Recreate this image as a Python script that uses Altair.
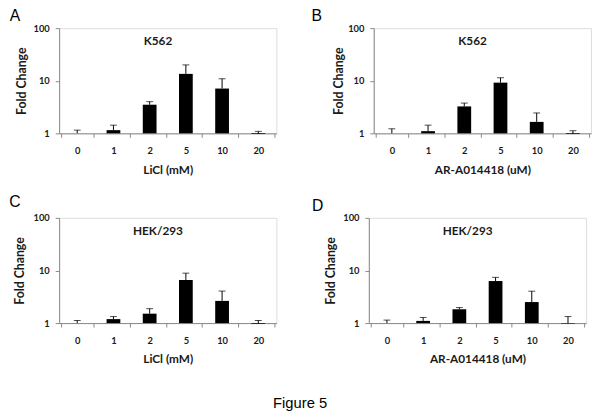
import altair as alt
import pandas as pd

doses = ["0", "1", "2", "5", "10", "20"]

# Panel A: K562, LiCl
a_vals = [1.0, 1.15, 3.5, 13.5, 7.1, 0.97]
a_errs = [1.15, 1.43, 4.0, 20.0, 10.9, 1.09]
# Panel B: K562, AR-A014418
b_vals = [1.0, 1.1, 3.25, 9.2, 1.65, 0.97]
b_errs = [1.22, 1.43, 3.76, 11.4, 2.44, 1.12]
# Panel C: HEK/293, LiCl
c_vals = [1.0, 1.19, 1.51, 6.6, 2.64, 0.97]
c_errs = [1.12, 1.33, 1.88, 8.9, 4.06, 1.12]
# Panel D: HEK/293, AR-A014418
d_vals = [1.0, 1.1, 1.83, 6.3, 2.51, 0.98]
d_errs = [1.14, 1.28, 1.97, 7.4, 4.04, 1.33]

panels = [
    ("A", "K562", "LiCl (mM)", a_vals, a_errs),
    ("B", "K562", "AR-A014418 (uM)", b_vals, b_errs),
    ("C", "HEK/293", "LiCl (mM)", c_vals, c_errs),
    ("D", "HEK/293", "AR-A014418 (uM)", d_vals, d_errs),
]

letter_pos = {"A": (-45, -12), "B": (-58, -12), "C": (-45, -16), "D": (-52, -12)}
title_pad = {"A": 5, "B": 2, "C": 7, "D": 5}

FONT = "Lato"
W, H = 221, 107


def make_panel(letter, cell, xtitle, vals, errs):
    df = pd.DataFrame({"dose": doses, "value": vals, "err": errs, "base": [1.0] * 6})
    x = alt.X(
        "dose:O",
        sort=doses,
        title=xtitle,
        axis=alt.Axis(
            labelAngle=0,
            labelFont=FONT,
            labelFontWeight="bold",
            labelFontSize=9.5,
            labelColor="#1a1a1a",
            labelPadding=9,
            tickBand="extent",
            tickSize=4,
            tickColor="#888",
            domainColor="#888",
            titleFont=FONT,
            titleFontWeight="bold",
            titleFontSize=12,
            titleColor="#1a1a1a",
            titlePadding=9,
        ),
    )
    yscale = alt.Scale(type="log", domain=[1, 100])
    yaxis = alt.Axis(
        values=[1, 10, 100],
        format="d",
        grid=False,
        labelFont=FONT,
        labelFontWeight="bold",
        labelFontSize=9.5,
        labelColor="#1a1a1a",
        labelPadding=6,
        tickSize=4,
        tickColor="#888",
        domainColor="#888",
        titleFont=FONT,
        titleFontWeight="bold",
        titleFontSize=12.5,
        titleColor="#1a1a1a",
        titlePadding=title_pad[letter],
    )
    base = alt.Chart(df)
    bars = base.mark_bar(color="black", size=14, clip=False).encode(
        x=x,
        y=alt.Y("value:Q", scale=yscale, axis=yaxis, title="Fold Change"),
        y2="base:Q",
    )
    rule = base.mark_rule(color="black", strokeWidth=1).encode(
        x=x, y=alt.Y("value:Q", scale=yscale), y2="err:Q"
    )
    cap = base.mark_tick(color="black", thickness=1, size=7, orient="horizontal").encode(
        x=x, y=alt.Y("err:Q", scale=yscale)
    )
    head = alt.Chart(pd.DataFrame({"t": [cell]})).mark_text(
        font=FONT, fontWeight="bold", fontSize=12, color="#1a1a1a", baseline="middle"
    ).encode(text="t:N", x=alt.value(W / 2 - 10), y=alt.value(13))
    lx, ly = letter_pos[letter]
    let = alt.Chart(pd.DataFrame({"t": [letter]})).mark_text(
        font="Liberation Sans", fontSize=16, color="black", baseline="middle", align="center"
    ).encode(text="t:N", x=alt.value(lx), y=alt.value(ly))
    return alt.layer(bars, rule, cap, head, let).properties(width=W, height=H)


ch = [make_panel(*p) for p in panels]

chart = alt.vconcat(
    alt.hconcat(ch[0], ch[1], spacing=34),
    alt.hconcat(ch[2], ch[3], spacing=34),
    spacing=18,
).properties(
    title=alt.TitleParams(
        "Figure 5",
        orient="bottom",
        anchor="middle",
        font="Liberation Sans",
        fontSize=15,
        fontWeight="normal",
        color="black",
        offset=31,
    ),
    padding={"left": 0, "top": -4, "right": 0, "bottom": 0},
).configure_view(stroke="#888", strokeWidth=1).configure(background="white")

chart.save("out.html", embed_options={"renderer": "svg", "actions": False})
